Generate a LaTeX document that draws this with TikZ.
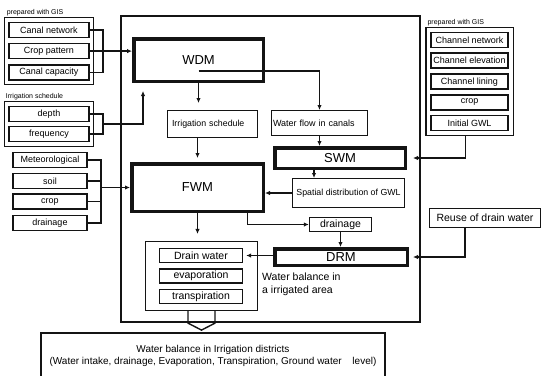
\documentclass[tikz,border=0pt]{standalone}
\usepackage{fontspec}
\setmainfont{Liberation Sans}
\usepackage{tikz}
\usetikzlibrary{arrows.meta, positioning, fit, calc}
\definecolor{ink}{HTML}{141414}
\tikzset{
  srcbox/.style ={draw=ink, line width=1.6pt, minimum height=15pt, inner sep=0pt,
                  font=\fontsize{9}{10}\selectfont},
  grpbox/.style ={draw=ink, line width=1.1pt, inner sep=4pt},
  modbox/.style ={draw=ink, line width=3.5pt, inner sep=0pt,
                  font=\fontsize{13}{15}\selectfont},
  infobox/.style={draw=ink, line width=1pt, inner ysep=0pt,
                  font=\fontsize{8.8}{10}\selectfont},
  outbox/.style ={draw=ink, line width=1.4pt, inner sep=0pt,
                  font=\fontsize{10.5}{12}\selectfont},
  frame/.style  ={draw=ink, line width=1.6pt},
  link/.style   ={draw=ink, line width=1.4pt},
  flow/.style   ={link, -{Latex[length=5pt,width=4.5pt]}},
  tag/.style    ={font=\fontsize{7}{8}\selectfont, inner sep=1pt},
  note/.style   ={font=\fontsize{10.5}{13}\selectfont, align=left, inner sep=0pt}
}

\begin{document}
\begin{tikzpicture}[x=1pt, y=-1pt]
  \useasboundingbox (0,0) rectangle (543,375);

  % Main frame
  \node[frame, minimum width=299pt, minimum height=306pt] (main) at (270.5,169) {};

  % Inputs prepared with GIS (left)
  \node[srcbox, minimum width=80pt] (canalnet) at (49,30) {Canal network};
  \node[srcbox, minimum width=80pt, below=4.5pt of canalnet] (croppat) {Crop pattern};
  \node[srcbox, minimum width=80pt, below=4.5pt of croppat] (canalcap) {Canal capacity};
  \node[grpbox, fit=(canalnet)(croppat)(canalcap)] (gisleft) {};
  \node[tag, anchor=south west] (gislefttag) at ([xshift=2pt]gisleft.north west) {prepared with GIS};

  % Irrigation schedule
  \node[srcbox, minimum width=80pt] (depth) at (49,114) {depth};
  \node[srcbox, minimum width=80pt, below=3.5pt of depth] (freq) {frequency};
  \node[grpbox, fit=(depth)(freq)] (irrgrp) {};
  \node[tag, anchor=south west] (irrtag) at ([xshift=1pt]irrgrp.north west) {Irrigation schedule};

  % Field inputs
  \node[srcbox, minimum width=74.5pt] (met) at (50,160) {Meteorological};
  \node[srcbox, minimum width=74.5pt, below=4.5pt of met] (soil) {soil};
  \node[srcbox, minimum width=74.5pt, below=4pt of soil] (cropin) {crop};
  \node[srcbox, minimum width=74.5pt, below=4.5pt of cropin] (drainin) {drainage};

  % Inputs prepared with GIS (right)
  \node[srcbox, minimum width=77.5pt] (chnet) at (469.5,40) {Channel network};
  \node[srcbox, minimum width=77.5pt, below=4pt of chnet] (chelev) {Channel elevation};
  \node[srcbox, minimum width=77.5pt, below=4.5pt of chelev] (chlin) {Channel lining};
  \node[srcbox, minimum width=77.5pt, below=4pt of chlin] (chcrop) {crop};
  \node[srcbox, minimum width=77.5pt, below=4pt of chcrop] (gwl) {Initial GWL};
  \node[grpbox, fit=(chnet)(gwl)] (gisright) {};
  \node[tag, anchor=south west] (gisrighttag) at ([xshift=1pt]gisright.north west) {prepared with GIS};

  % Models
  \node[modbox, minimum width=129.5pt, minimum height=42.5pt] (wdm) at (198.5,60) {WDM};
  \node[modbox, minimum width=131.5pt, minimum height=47.5pt] (fwm) at (197.5,187.5) {FWM};
  \node[modbox, minimum width=130.5pt, minimum height=20.5pt] (swm) at (340,158) {SWM};
  \node[modbox, minimum width=132.5pt, minimum height=16.5pt] (drm) at (341,257) {DRM};

  % Intermediate results
  \node[infobox, text width=81pt, inner xsep=4.5pt, minimum height=27pt, align=left] (irrsched) at (212.5,124) {Irrigation schedule};
  \node[infobox, text width=93pt, inner xsep=1.5pt, minimum height=25pt, align=left, font=\fontsize{9}{10}\selectfont] (waterflow) at (319.5,123) {Water flow in canals};
  \node[infobox, minimum width=112pt, minimum height=29pt] (spatial) at (348.5,193) {Spatial distribution of GWL};
  \node[outbox, minimum width=62pt, minimum height=14pt] (drainbox) at (340.5,224.5) {drainage};

  % Water balance in an irrigated area
  \node[draw=ink, line width=1.2pt, minimum width=112pt, minimum height=69pt] (area) at (201.5,276) {};
  \node[outbox, minimum width=83pt, minimum height=14pt] (drainw) at (201,255.5) {Drain water};
  \node[outbox, minimum width=83pt, minimum height=14pt, below=5pt of drainw] (evap) {evaporation};
  \node[outbox, minimum width=83pt, minimum height=14pt, below=5pt of evap] (transp) {transpiration};
  \node[note, anchor=west] (areanote) at (262,284.5) {Water balance in\\a irrigated area};

  \node[outbox, minimum width=111pt, minimum height=19pt] (reuse) at (485,218) {Reuse of drain water};

  % District balance
  \node[draw=ink, line width=1.2pt, minimum width=344pt, minimum height=46pt, align=center,
        font=\fontsize{10}{12}\selectfont] (district) at (213,356)
        {Water balance in Irrigation districts\\(Water intake, drainage, Evaporation, Transpiration, Ground water\hspace{8pt} level)};

  % Connectors
  \draw[link] (canalnet.east) -| ([xshift=13pt]croppat.east) |- (canalcap.east);
  \draw[flow] (croppat.east) -- (croppat.east -| wdm.west);

  \coordinate (j2) at ($(depth.east)!.5!(freq.east)+(13,0)$);
  \draw[link] (depth.east) -| (j2) |- (freq.east);
  \draw[flow, shorten >=8pt] (j2) -| ([xshift=11pt]wdm.south west);

  \coordinate (j3) at ([xshift=13pt]soil.east);
  \draw[link] (met.east) -| ([xshift=13pt]drainin.east) -- (drainin.east);
  \draw[link] (soil.east) -- (j3);
  \draw[link] (cropin.east) -- ++(13,0);
  \draw[flow] (j3 |- fwm.west) -- (fwm.west);

  \coordinate (split) at ([yshift=12pt]wdm.south);
  \draw[flow] (wdm.south) -- ++(0,20);
  \draw[flow] (split) -| (waterflow.north);
  \draw[flow, shorten >=4pt] (irrsched.south -| fwm.north) -- (fwm.north);
  \draw[flow] (waterflow.south) -- (waterflow.south |- swm.north);
  \draw[flow] ([xshift=-26pt]swm.south) -- ([xshift=-26pt]swm.south |- spatial.north);
  \draw[flow] (spatial.west) -- (spatial.west -| fwm.east);
  \draw[flow, shorten >=6pt] ([xshift=-4pt]gisright.south) |- (swm.east);
  \draw[flow] ([xshift=50pt]fwm.south) |- (drainbox.west);
  \draw[flow, shorten >=7pt] (fwm.south) -- (fwm.south |- area.north);
  \draw[flow] (drainbox.south) -- (drainbox.south |- drm.north);
  \draw[flow, shorten >=3pt] (drm.west |- drainw.east) -- (drainw.east);
  \draw[flow, shorten >=4pt] ([xshift=-20pt]reuse.south) |- (drm.east);

  % Block arrow to district balance
  \draw[link] ([xshift=-13.5pt]area.south) -- ++(0,12) -- ++(13.5,7) -- ++(13.5,-7) -- ++(0,-12);
\end{tikzpicture}
\end{document}
